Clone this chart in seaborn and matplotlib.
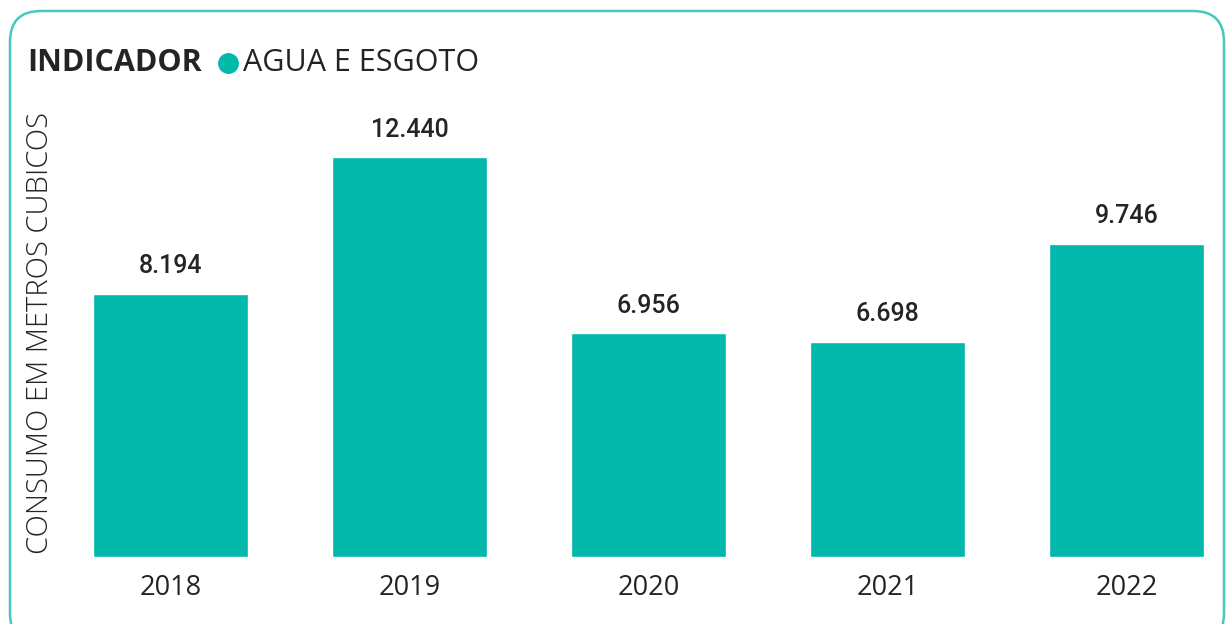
import numpy as np
import pandas as pd
import seaborn as sns
import matplotlib.pyplot as plt
from matplotlib.patches import FancyBboxPatch
from matplotlib.lines import Line2D

sns.set_style("white")
plt.rcParams['font.family'] = ['Open Sans', 'DejaVu Sans']

anos = ["2018", "2019", "2020", "2021", "2022"]
consumo = [8194, 12440, 6956, 6698, 9746]
rotulos = ["8.194", "12.440", "6.956", "6.698", "9.746"]
serie = "AGUA E ESGOTO"

teal = "#01B8AA"
df = pd.DataFrame({"ano": anos, "consumo": consumo})

W, H = 1232, 624
fig = plt.figure(figsize=(W / 100, H / 100), dpi=100)

# rounded card border
card = FancyBboxPatch((10 / W, -20 / H), 1214 / W, 633 / H,
                      boxstyle="round,pad=0,rounding_size=0.025",
                      transform=fig.transFigure, fill=False,
                      edgecolor="#45C9BC", linewidth=1.8, mutation_aspect=W / H)
fig.patches.append(card)

# axes: bar centers at 170.5 px + 239 px steps, baseline at y=557
left_px, right_px = 60, 1215
ax = fig.add_axes([left_px / W, (H - 557) / H, (right_px - left_px) / W, 447 / H])
sns.barplot(data=df, x="ano", y="consumo", color=teal, width=0.65,
            saturation=1, ax=ax)
ax.set_xlim((left_px - 170.5) / 239, (right_px - 170.5) / 239)
ax.set_ylim(0, 447 / 0.03215)

for i, (v, t) in enumerate(zip(consumo, rotulos)):
    ax.annotate(t, (i, v), xytext=(0, 11), textcoords="offset points",
                ha="center", va="bottom", fontsize=18, fontfamily="Roboto",
                fontweight="medium", color="#252423")

ax.set_yticks([])
ax.set_xlabel("")
ax.set_ylabel("")
ax.tick_params(axis="x", length=0, labelsize=19.5, labelcolor="#252423", pad=12)
for s in ax.spines.values():
    s.set_visible(False)

fig.text(40 / W, 1 - 333 / H, "CONSUMO EM METROS CUBICOS", rotation=90,
         ha="center", va="center", fontsize=21, fontweight="light",
         color="#252423")

# legend
fig.text(27 / W, 1 - 63 / H, "INDICADOR", ha="left", va="center",
         fontsize=22, fontweight="bold", color="#252423")
fig.add_artist(Line2D([228 / W], [1 - 63 / H], marker="o", markersize=14,
                      color=teal, transform=fig.transFigure))
fig.text(243 / W, 1 - 63 / H, serie, ha="left", va="center",
         fontsize=22, color="#252423")

fig.savefig("out.png", dpi=100)
